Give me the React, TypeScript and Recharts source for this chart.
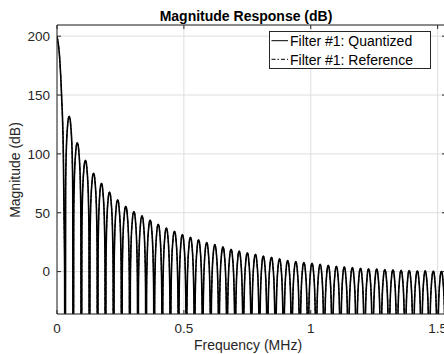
import React from 'react';
import { LineChart, Line, XAxis, YAxis, CartesianGrid, Legend, ReferenceLine } from 'recharts';

const FONT = '"Liberation Sans", Arial, Helvetica, sans-serif';
const INK = '#262626';

const xTicks = [0, 0.5, 1, 1.5];
const yTicks = [0, 50, 100, 150, 200];

// main lobe around DC (MHz / dB)
const mainLobeFreq = [0, 0.011, 0.018, 0.025, 0.0276, 0.03];
const mainLobeDb = [200, 180, 150, 100, 50, 0];

// zeros of the response, they fall far below the axis
const nullFreq = [
  0.032, 0.064, 0.096, 0.128, 0.16, 0.191, 0.223, 0.255, 0.287, 0.319, 0.351, 0.383,
  0.415, 0.447, 0.479, 0.51, 0.542, 0.574, 0.606, 0.638, 0.67, 0.702, 0.734, 0.766,
  0.798, 0.829, 0.861, 0.893, 0.925, 0.957, 0.989, 1.021, 1.053, 1.085, 1.117, 1.148,
  1.18, 1.212, 1.244, 1.276, 1.308, 1.34, 1.372, 1.404, 1.436, 1.467, 1.499, 1.531,
];
const NULL_DB = -400;

// side lobe peaks
const peakFreq = [
  0.048, 0.08, 0.112, 0.144, 0.175, 0.207, 0.239, 0.271, 0.303, 0.335, 0.367, 0.399,
  0.431, 0.463, 0.494, 0.526, 0.558, 0.59, 0.622, 0.654, 0.686, 0.718, 0.75, 0.782,
  0.813, 0.845, 0.877, 0.909, 0.941, 0.973, 1.005, 1.037, 1.069, 1.101, 1.132, 1.164,
  1.196, 1.228, 1.26, 1.292, 1.324, 1.356, 1.388, 1.42, 1.451, 1.483, 1.515,
];
const quantizedPeakDb = [
  132, 109.5, 94.5, 83.5, 75, 67.5, 61, 55.5, 51, 47.5, 43.8, 40.3,
  37, 34.3, 31.5, 29.2, 27, 24.7, 22.9, 21, 19, 17.4, 16, 14.7,
  13.3, 12.2, 10.8, 9.5, 8.6, 7.8, 7, 6.2, 5.4, 4.6, 4, 3.4,
  2.9, 2.5, 2.1, 1.8, 1.5, 1.2, 1, 0.8, 0.6, 0.4, 0.2,
];
const referencePeakDb = [
  132, 109.5, 94.5, 83.5, 75, 67.5, 61, 55.5, 51, 47.5, 43.8, 40.3,
  37, 34.3, 31.5, 29.2, 27, 24.7, 22.9, 21, 19, 17.4, 16, 14.7,
  13.3, 12.2, 10.8, 9.5, 8.6, 7.8, 7, 6.2, 5.4, 4.6, 4, 3.4,
  2.9, 2.5, 2.1, 1.8, 1.5, 1.2, 1, 0.8, 0.6, 0.4, 0.2,
];

// one side lobe: level below its peak, at a fraction of the way from null to peak
const lobeEdge = [0.12, 0.24, 0.4, 0.6, 0.8];
const lobeDrop = [-64, -36, -19, -8.4, -1.8];

type Pt = { f: number; quantized: number; reference: number };

const data: Pt[] = [];
mainLobeFreq.forEach((f, i) => data.push({ f, quantized: mainLobeDb[i], reference: mainLobeDb[i] }));
peakFreq.forEach((pf, k) => {
  const left = nullFreq[k];
  const right = nullFreq[k + 1];
  data.push({ f: left, quantized: NULL_DB, reference: NULL_DB });
  lobeEdge.forEach((e, j) =>
    data.push({
      f: left + e * (pf - left),
      quantized: quantizedPeakDb[k] + lobeDrop[j],
      reference: referencePeakDb[k] + lobeDrop[j],
    })
  );
  data.push({ f: pf, quantized: quantizedPeakDb[k], reference: referencePeakDb[k] });
  for (let j = lobeEdge.length - 1; j >= 0; j--) {
    data.push({
      f: right - lobeEdge[j] * (right - pf),
      quantized: quantizedPeakDb[k] + lobeDrop[j],
      reference: referencePeakDb[k] + lobeDrop[j],
    });
  }
});
data.push({ f: nullFreq[nullFreq.length - 1], quantized: NULL_DB, reference: NULL_DB });

const X_DOMAIN: [number, number] = [0, 1.533];
const Y_DOMAIN: [number, number] = [-36, 209.5];

// plot box, for the inward ticks on the top and right sides
const PLOT_TOP = 25;
const PLOT_RIGHT = 446;

const BottomTick = ({ x, y, payload }: any) => (
  <g>
    <line x1={x} x2={x} y1={y} y2={y - 4} stroke={INK} />
    <line x1={x} x2={x} y1={PLOT_TOP} y2={PLOT_TOP + 4} stroke={INK} />
    <text x={x} y={y + 19} textAnchor="middle" fontSize={13.5} fill={INK} fontFamily={FONT}>
      {payload.value}
    </text>
  </g>
);

const LeftTick = ({ x, y, payload }: any) => (
  <g>
    <line x1={x} x2={x + 4} y1={y} y2={y} stroke={INK} />
    <line x1={PLOT_RIGHT} x2={PLOT_RIGHT - 4} y1={y} y2={y} stroke={INK} />
    <text x={x - 7} y={y} dy="0.36em" textAnchor="end" fontSize={13.5} fill={INK} fontFamily={FONT}>
      {payload.value}
    </text>
  </g>
);

const LegendBox = ({ payload }: any) => (
  <svg width={162} height={39} style={{ display: 'block' }}>
    <rect x={0.5} y={0.5} width={161} height={37} fill="#fff" stroke={INK} />
    {(payload || []).map((entry: any, i: number) => (
      <g key={entry.value}>
        <line
          x1={2.5}
          x2={19}
          y1={9.7 + i * 18.6}
          y2={9.7 + i * 18.6}
          stroke="#000"
          strokeWidth={1}
          strokeDasharray={entry.payload?.strokeDasharray}
        />
        <text x={21} y={15 + i * 18.6} fontSize={14} fill="#000" fontFamily={FONT}>
          {entry.value}
        </text>
      </g>
    ))}
  </svg>
);

export default function App() {
  return (
    <div style={{ position: 'absolute', left: 0, top: 0 }}>
      <LineChart width={460} height={354} data={data} margin={{ top: 25, right: 14, bottom: 0, left: 0 }}>
        <CartesianGrid stroke="#dedede" strokeWidth={1} />
        <XAxis
          dataKey="f"
          type="number"
          domain={X_DOMAIN}
          allowDataOverflow
          ticks={xTicks}
          interval={0}
          height={40}
          tickSize={0}
          tickMargin={0}
          tick={BottomTick}
          axisLine={{ stroke: INK }}
          label={() => (
            <text x={248} y={350} textAnchor="middle" fontSize={14} fill={INK} fontFamily={FONT}>
              Frequency (MHz)
            </text>
          )}
        />
        <YAxis
          type="number"
          domain={Y_DOMAIN}
          allowDataOverflow
          ticks={yTicks}
          interval={0}
          width={57}
          tickSize={0}
          tickMargin={0}
          tick={LeftTick}
          axisLine={{ stroke: INK }}
          label={() => (
            <g>
              <text x={246} y={21} textAnchor="middle" fontSize={14} fontWeight="bold" fill="#000" fontFamily={FONT}>
                Magnitude Response (dB)
              </text>
              <text
                x={15}
                y={170}
                dy="0.36em"
                transform="rotate(-90 15 170)"
                textAnchor="middle"
                fontSize={14}
                fill={INK}
                fontFamily={FONT}
              >
                Magnitude (dB)
              </text>
            </g>
          )}
        />
        <ReferenceLine y={Y_DOMAIN[1]} stroke={INK} strokeWidth={1} />
        <ReferenceLine x={X_DOMAIN[1]} stroke={INK} strokeWidth={1} />
        <Line
          dataKey="quantized"
          name="Filter #1: Quantized"
          type="monotone"
          stroke="#000"
          strokeWidth={1.6}
          dot={false}
          isAnimationActive={false}
        />
        <Line
          dataKey="reference"
          name="Filter #1: Reference"
          type="monotone"
          stroke="#000"
          strokeWidth={1.1}
          strokeDasharray="4 2 1.5 2"
          dot={false}
          isAnimationActive={false}
        />
        <Legend
          layout="vertical"
          align="center"
          verticalAlign="middle"
          content={LegendBox}
          wrapperStyle={{ left: 269, top: 31, width: 162, height: 39 }}
        />
      </LineChart>
    </div>
  );
}
